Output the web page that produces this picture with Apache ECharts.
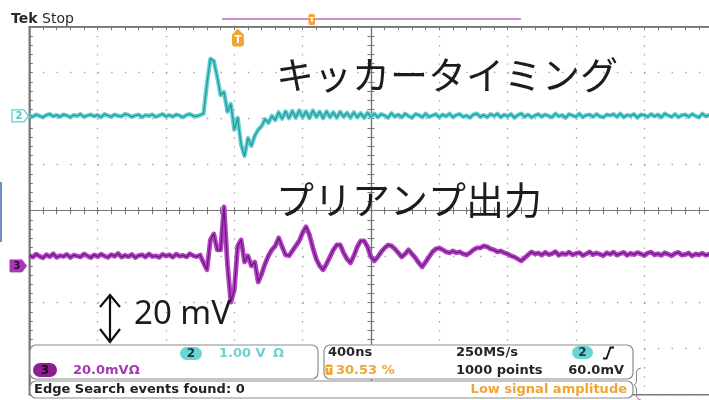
<!DOCTYPE html>
<html>
<head>
<meta charset="utf-8">
<script src="https://cdn.jsdelivr.net/npm/echarts@6/dist/echarts.min.js"></script>
<style>
  html, body { margin: 0; padding: 0; background: #ffffff; }
  #main { width: 709px; height: 400px; }
</style>
</head>
<body>
<div id="main"></div>
<script>
// Acquisition: 400 ns/div, 10 divisions, one plotted sample every 20 ns
const sampleNs = 20;
const timePerDivNs = 400;
const divisionsX = 10;
const divisionsY = 8;
const triggerPercent = 30.53;

// CH2 – kicker timing signal, volts
const ch2Volts = [
  0.01,-0.02,0.03,0.00,-0.03,0.02,0.04,-0.01,0.02,-0.02,
  0.03,0.01,-0.03,0.02,0.00,0.04,-0.02,0.01,0.03,-0.01,
  0.02,-0.03,0.04,0.01,-0.02,0.03,0.00,-0.01,0.04,0.02,
  -0.02,0.01,0.03,-0.03,0.02,0.00,0.03,-0.02,0.01,0.04,
  -0.01,0.02,-0.02,0.03,0.01,-0.03,0.02,0.04,0.00,-0.01,
  0.02,
  0.05,0.70,1.24,1.20,0.85,0.45,0.52,0.09,0.26,-0.30,
  -0.04,-0.63,-0.87,-0.48,-0.65,-0.43,-0.30,-0.22,-0.07,-0.15,
  0.00,-0.09,0.08,-0.06,0.10,-0.05,0.11,-0.04,0.12,-0.03,
  0.10,-0.05,0.12,-0.02,0.09,-0.05,0.10,-0.03,0.08,-0.04,
  0.09,-0.02,0.07,-0.04,0.08,-0.03,0.06,-0.04,0.07,-0.02,
  0.05,-0.03,0.04,0.01,-0.04,0.06,-0.02,0.03,-0.03,0.05,
  0.00,-0.04,0.04,0.02,-0.03,0.05,-0.02,0.01,0.04,-0.03,
  0.03,-0.01,0.05,-0.03,0.02,0.04,-0.02,0.01,-0.04,0.03,
  0.05,-0.02,0.02,-0.03,0.04,0.00,0.05,-0.03,0.03,-0.01,
  0.04,-0.04,0.02,0.05,-0.02,0.03,-0.03,0.01,0.04,-0.02,
  0.03,0.00,-0.03,0.05,-0.01,0.02,-0.04,0.04,0.01,-0.02,
  0.05,-0.03,0.02,0.03,-0.02,0.04,-0.01,-0.03,0.03,0.01,
  0.04,-0.02,0.05,-0.03,0.02,0.00,0.04,-0.04,0.03,0.02,
  -0.02,0.04,-0.01,0.03,-0.03,0.05,0.01,-0.02,0.04,-0.03,
  0.02,0.03,-0.02,0.04,0.00,-0.03,0.05,-0.01,0.02,-0.02
];

// CH3 – preamplifier output, millivolts
const ch3MilliVolts = [
  4.6,3.8,5.1,4.2,3.5,4.9,4.0,5.3,3.7,4.5,
  4.1,5.0,3.6,4.7,4.3,3.9,5.2,4.4,3.6,4.8,
  4.0,5.1,4.3,3.7,4.9,4.2,5.4,3.8,4.6,4.0,
  5.0,3.6,4.5,4.8,3.9,5.2,4.1,4.4,3.7,5.0,
  4.3,4.8,3.8,5.1,4.2,4.6,3.9,5.3,4.4,4.0,
  4.7,
  1.3,-1.7,11.3,13.9,7.0,7.0,25.7,0.4,-15.7,-10.4,
  8.7,11.3,1.7,4.4,0.0,1.7,-7.0,-3.5,0.9,4.4,
  7.0,8.7,12.2,8.3,4.8,4.4,6.5,8.7,10.9,14.4,
  17.0,13.5,7.8,3.0,0.0,-1.7,0.9,3.9,7.0,9.1,
  9.1,5.7,3.0,1.3,4.4,8.3,10.9,10.9,8.3,3.9,
  2.2,3.9,6.1,7.8,9.1,8.7,7.4,5.7,3.9,5.2,
  7.0,5.2,3.5,1.3,-0.4,1.7,3.9,6.1,7.4,7.8,
  7.0,6.1,5.7,6.5,5.7,6.1,5.2,4.8,5.7,7.0,
  7.8,7.8,8.7,8.3,7.4,7.0,6.1,6.5,5.7,5.2,
  4.4,3.9,3.0,2.2,3.5,4.8,6.1,5.2,
  5.6,4.7,5.9,4.9,5.3,6.2,4.6,5.5,5.0,6.0,
  4.8,5.4,5.8,4.5,5.2,6.1,4.9,5.6,5.1,4.4,
  5.7,5.0,6.0,4.7,5.3,5.9,4.6,5.5,4.9,5.8,
  5.2,4.5,5.6,6.0,4.8,5.3,4.6,5.7,5.1,4.4,
  5.4,5.9,4.7,5.0,5.6,4.3,5.2,4.8,5.5,4.6,
  5.1,4.9
];

// Vertical settings (scale and on-screen position in divisions)
const ch2VoltsPerDiv = 1.0;
const ch2PositionDiv = 2.06;
const ch3MilliVoltsPerDiv = 20;
const ch3PositionDiv = -1.2;

// Annotation and readout texts
const kickerTitle = 'キッカータイミング';
const preampTitle = 'プリアンプ出力';
const scaleNote = '20 mV';

const totalNs = timePerDivNs * divisionsX;
const ch2Points = ch2Volts.map((v, i) => [i * sampleNs, v / ch2VoltsPerDiv + ch2PositionDiv]);
const ch3Points = ch3MilliVolts.map((v, i) => [i * sampleNs, v / ch3MilliVoltsPerDiv + ch3PositionDiv]);

const GRID_COLOR = '#767676';
const DOT_COLOR = '#a0a0a0';
const CYAN = '#5ccfd0';
const CYAN_DARK = '#2a969a';
const PURPLE = '#b440c6';
const PURPLE_DARK = '#6a1a7c';
const ORANGE = '#f0a432';

const gridLeft = 29.3, gridTop = 26.7, gridW = 683.3, gridH = 368;
const dotStepX = gridW / divisionsX / 5;
const dotStepY = gridH / divisionsY / 5;

function centreAxis(extra) {
  return Object.assign({
    type: 'value',
    axisLabel: { show: false },
    splitLine: { show: false },
    minorTick: { show: true, splitNumber: 5, length: 3.5, lineStyle: { color: GRID_COLOR, width: 1 } }
  }, extra);
}

const chart = echarts.init(document.getElementById('main'), null, { renderer: 'canvas' });

chart.setOption({
  animation: false,
  backgroundColor: '#ffffff',
  grid: {
    left: gridLeft, top: gridTop, width: gridW, height: gridH,
    show: true, borderColor: GRID_COLOR, borderWidth: 1.5,
    containLabel: false, outerBoundsMode: 'none'
  },
  xAxis: [
    {
      type: 'value', min: 0, max: totalNs, interval: timePerDivNs, position: 'top',
      axisLine: { show: true, onZero: false, lineStyle: { color: GRID_COLOR, width: 1.5 } },
      axisTick: { show: true, inside: true, length: 3.5, lineStyle: { color: GRID_COLOR } },
      minorTick: { show: true, splitNumber: 5, length: 3.5, lineStyle: { color: GRID_COLOR } },
      axisLabel: { show: false },
      splitLine: { show: true, lineStyle: { color: DOT_COLOR, width: 1.3, type: [1.3, dotStepY - 1.3] } }
    },
    centreAxis({
      min: -totalNs / 2, max: totalNs / 2, interval: timePerDivNs, position: 'bottom',
      axisLine: { show: true, onZero: true, onZeroAxisIndex: 0, lineStyle: { color: GRID_COLOR, width: 1.2 } },
      axisTick: { show: true, inside: true, length: 3.5, lineStyle: { color: GRID_COLOR } }
    }),
    centreAxis({
      min: -totalNs / 2, max: totalNs / 2, interval: timePerDivNs, position: 'bottom',
      axisLine: { show: true, onZero: true, onZeroAxisIndex: 0, lineStyle: { color: GRID_COLOR, width: 1.2 } },
      axisTick: { show: true, inside: false, length: 3.5, lineStyle: { color: GRID_COLOR } }
    })
  ],
  yAxis: [
    {
      type: 'value', min: -divisionsY / 2, max: divisionsY / 2, interval: 1, position: 'left',
      axisLine: { show: true, onZero: false, lineStyle: { color: GRID_COLOR, width: 1.5 } },
      axisTick: { show: true, inside: true, length: 3.5, lineStyle: { color: GRID_COLOR } },
      minorTick: { show: true, splitNumber: 5, length: 3.5, lineStyle: { color: GRID_COLOR } },
      axisLabel: { show: false },
      splitLine: { show: true, lineStyle: { color: DOT_COLOR, width: 1.3, type: [1.3, dotStepX - 1.3] } }
    },
    centreAxis({
      min: -divisionsY / 2, max: divisionsY / 2, interval: 1, position: 'left',
      axisLine: { show: true, onZero: true, onZeroAxisIndex: 1, lineStyle: { color: GRID_COLOR, width: 1.2 } },
      axisTick: { show: true, inside: true, length: 3.5, lineStyle: { color: GRID_COLOR } }
    }),
    centreAxis({
      min: -divisionsY / 2, max: divisionsY / 2, interval: 1, position: 'left',
      axisLine: { show: true, onZero: true, onZeroAxisIndex: 1, lineStyle: { color: GRID_COLOR, width: 1.2 } },
      axisTick: { show: true, inside: false, length: 3.5, lineStyle: { color: GRID_COLOR } }
    })
  ],
  series: [
    { name: 'CH2', type: 'line', xAxisIndex: 0, yAxisIndex: 0, data: ch2Points, showSymbol: false,
      silent: true, z: 3, lineStyle: { color: CYAN, width: 4.2, join: 'round' } },
    { name: 'CH2 core', type: 'line', xAxisIndex: 0, yAxisIndex: 0, data: ch2Points, showSymbol: false,
      silent: true, z: 4, lineStyle: { color: CYAN_DARK, width: 1.2 } },
    { name: 'CH3', type: 'line', xAxisIndex: 0, yAxisIndex: 0, data: ch3Points, showSymbol: false,
      silent: true, z: 3, lineStyle: { color: PURPLE, width: 4.8, join: 'round' } },
    { name: 'CH3 core', type: 'line', xAxisIndex: 0, yAxisIndex: 0, data: ch3Points, showSymbol: false,
      silent: true, z: 4, lineStyle: { color: PURPLE_DARK, width: 1.3 } }
  ]
});

// ---- overlays: titles, channel markers, readout panels ----
const trigX = chart.convertToPixel({ xAxisIndex: 0 }, totalNs * triggerPercent / 100);
const ch2Y = chart.convertToPixel({ yAxisIndex: 0 }, ch2PositionDiv);
const ch3Y = chart.convertToPixel({ yAxisIndex: 0 }, ch3PositionDiv);

const UI_FONT = '"DejaVu Sans", sans-serif';
const JP_FONT = '"Noto Sans CJK JP", "Noto Sans", sans-serif';

function text(x, y, str, fill, font, align) {
  return {
    type: 'text', x: x, y: y, z: 120,
    style: { text: str, fill: fill, font: font,
      align: align || 'left', verticalAlign: 'middle',
      textAlign: align || 'left', textVerticalAlign: 'middle' }
  };
}
function rect(x, y, w, h, r, fill, stroke, lw, z) {
  return { type: 'rect', z: z || 110, shape: { x: x, y: y, width: w, height: h, r: r },
    style: { fill: fill, stroke: stroke || null, lineWidth: lw || 0 } };
}
function poly(points, fill, stroke, lw, z) {
  return { type: 'polygon', z: z || 110, shape: { points: points },
    style: { fill: fill, stroke: stroke || null, lineWidth: lw || 0 } };
}
function pline(points, stroke, lw, z) {
  return { type: 'polyline', z: z || 110, shape: { points: points },
    style: { fill: null, stroke: stroke, lineWidth: lw } };
}
function badge(x, y, w, h, fill, label, labelColor) {
  return [
    rect(x, y, w, h, h / 2, fill, null, 0, 115),
    text(x + w / 2, y + h / 2 + 0.5, label, labelColor, 'bold 12px ' + UI_FONT, 'center')
  ];
}

const elements = [
  // header
  text(11, 19, 'Tek', '#2a2a2a', 'bold 14px ' + UI_FONT),
  text(42, 19, 'Stop', '#2a2a2a', '14px ' + UI_FONT),
  { type: 'line', z: 110, shape: { x1: 222, y1: 19, x2: 521, y2: 19 }, style: { stroke: '#cf8fd6', lineWidth: 2 } },
  rect(308.5, 14, 6.5, 11, 1.5, ORANGE, null, 0, 112),
  text(311.8, 19.8, 'T', '#ffffff', 'bold 7px ' + UI_FONT, 'center'),

  // trigger position marker
  poly([[trigX - 5, 34], [trigX, 28.5], [trigX + 5, 34]], ORANGE, null, 0, 112),
  rect(trigX - 6, 33, 12, 13.5, 3, ORANGE, null, 0, 112),
  text(trigX, 40.2, 'T', '#ffffff', 'bold 10px ' + UI_FONT, 'center'),

  // channel ground markers
  poly([[12, ch2Y - 6], [24, ch2Y - 6], [28.5, ch2Y], [24, ch2Y + 6], [12, ch2Y + 6]], '#ffffff', CYAN, 1.3, 112),
  text(19, ch2Y + 0.5, '2', '#58c8c8', 'bold 10px ' + UI_FONT, 'center'),
  poly([[10, ch3Y - 6], [22, ch3Y - 6], [26.5, ch3Y], [22, ch3Y + 6], [10, ch3Y + 6]], '#a838b8', '#a838b8', 1, 112),
  text(17, ch3Y + 0.5, '3', '#2e0a36', 'bold 10px ' + UI_FONT, 'center'),

  // left edge accent
  { type: 'line', z: 110, shape: { x1: 1, y1: 182, x2: 1, y2: 242 }, style: { stroke: '#6f8fc8', lineWidth: 2 } },

  // signal titles
  text(276, 75, kickerTitle, '#1c1c1c', '38px ' + JP_FONT),
  text(276, 200, preampTitle, '#1c1c1c', '38px ' + JP_FONT),

  // scale arrow
  { type: 'line', z: 110, shape: { x1: 110, y1: 296, x2: 110, y2: 341 }, style: { stroke: '#111', lineWidth: 2.2 } },
  pline([[100, 307], [110, 295], [120, 307]], '#111', 2.2),
  pline([[100, 329], [110, 342], [120, 329]], '#111', 2.2),
  text(134, 315, scaleNote, '#1c1c1c', '33px "Noto Sans", sans-serif'),

  // readout panels
  rect(30, 345, 288, 34, 6, '#ffffff', '#8c8c8c', 1.2, 105),
  rect(324, 345, 309, 34, 6, '#ffffff', '#8c8c8c', 1.2, 105),
  rect(30, 381, 603, 17, 6, '#ffffff', '#8c8c8c', 1.2, 105),

  ...badge(180, 347, 22, 13, '#6ad4d4', '2', '#16393a'),
  text(219, 353.5, '1.00 V', '#6ad2d2', 'bold 13px ' + UI_FONT),
  text(273, 353.5, 'Ω', '#6ad2d2', 'bold 13px ' + UI_FONT),
  ...badge(33, 363, 24, 14, '#8c208e', '3', '#1e0520'),
  text(73, 370.5, '20.0mVΩ', '#a43ab4', 'bold 13px ' + UI_FONT),

  text(328, 353, '400ns', '#262626', 'bold 13px ' + UI_FONT),
  rect(325.5, 364.5, 7, 10.5, 1.5, ORANGE, null, 0, 115),
  text(329, 370, 'T', '#ffffff', 'bold 7px ' + UI_FONT, 'center'),
  text(336, 370.5, triggerPercent.toFixed(2) + ' %', ORANGE, 'bold 13px ' + UI_FONT),
  text(456, 353, '250MS/s', '#262626', 'bold 13px ' + UI_FONT),
  text(456, 370.5, '1000 points', '#262626', 'bold 13px ' + UI_FONT),
  ...badge(572, 346, 21, 13, '#6ad4d4', '2', '#16393a'),
  pline([[603, 358.5], [606.5, 358.5], [610.5, 347.5], [614, 347.5]], '#151515', 1.8, 116),
  text(624, 370.5, '60.0mV', '#262626', 'bold 13px ' + UI_FONT, 'right'),

  text(34, 390, 'Edge Search events found: 0', '#222222', 'bold 13px ' + UI_FONT),
  text(627, 390, 'Low signal amplitude', ORANGE, 'bold 13px ' + UI_FONT, 'right'),

  // bracket beside the panels
  pline([[641, 368], [638, 369], [636.5, 372], [636.5, 381], [635.5, 384], [634, 385],
         [635.5, 386], [636.5, 389], [636.5, 396], [638, 399], [641, 400]], '#8c8c8c', 1)
];

chart.setOption({ graphic: { elements: elements } });
</script>
</body>
</html>
